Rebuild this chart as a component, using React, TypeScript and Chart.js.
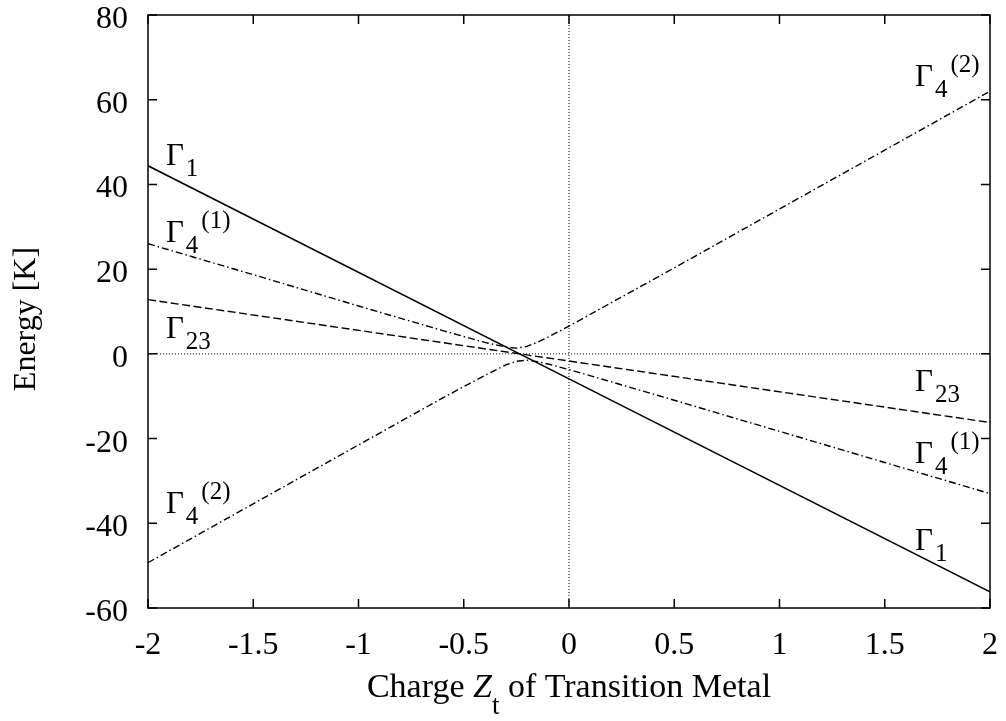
import React, { useEffect, useRef } from 'react';
import { Chart, registerables } from 'chart.js';
Chart.register(...registerables);

const X_TICKS = [-2, -1.5, -1, -0.5, 0, 0.5, 1, 1.5, 2];
const X_TICK_LABELS = ['-2', '-1.5', '-1', '-0.5', '0', '0.5', '1', '1.5', '2'];
const Y_TICKS = [-60, -40, -20, 0, 20, 40, 60, 80];
const Y_TICK_LABELS = ['-60', '-40', '-20', '0', '20', '40', '60', '80'];

const G1_X = [-2, 0, 2];
const G1_Y = [44.4, -5.9, -56.2];
const G23_X = [-2, 0, 2];
const G23_Y = [12.8, -1.7, -16.2];
const G4_X = [-2, -1.5, -1, -0.6, -0.4, -0.3, -0.25, -0.2, -0.15, -0.1, 0, 0.5, 1, 1.5, 2];
const G4_UPPER = [26.0, 18.7, 11.3, 5.5, 2.7, 1.6, 1.35, 1.75, 2.75, 3.95, 6.55, 20.3, 34.2, 48.1, 62.0];
const G4_LOWER = [-49.3, -35.4, -21.5, -10.4, -5.1, -2.6, -1.75, -1.5, -1.85, -2.4, -3.7, -10.95, -18.3, -25.65, -33.0];

// label anchors (data coords): [x, y, sub, sup]
const LABELS: [number, number, string, string][] = [
  [-1.915, 44.6, '1', ''],
  [-1.915, 26.5, '4', '(1)'],
  [-1.915, 3.8, '23', ''],
  [-1.915, -37.5, '4', '(2)'],
  [1.644, 63.3, '4', '(2)'],
  [1.644, -8.7, '23', ''],
  [1.644, -25.7, '4', '(1)'],
  [1.644, -46.3, '1', ''],
];

const FONT = "'Liberation Serif', 'DejaVu Serif', serif";

const pts = (xs: number[], ys: number[]) => xs.map((x, i) => ({ x, y: ys[i] }));

const overlay = {
  id: 'overlay',
  afterDraw(chart: any) {
    const ctx = chart.ctx as CanvasRenderingContext2D;
    const xs = chart.scales.x;
    const ys = chart.scales.y;
    const a = chart.chartArea;
    ctx.save();
    ctx.strokeStyle = '#000';
    ctx.fillStyle = '#000';
    ctx.lineWidth = 1.5;
    ctx.setLineDash([]);
    ctx.strokeRect(a.left, a.top, a.right - a.left, a.bottom - a.top);
    const TL = 9;
    ctx.beginPath();
    X_TICKS.forEach((v) => {
      const p = xs.getPixelForValue(v);
      ctx.moveTo(p, a.bottom);
      ctx.lineTo(p, a.bottom - TL);
      ctx.moveTo(p, a.top);
      ctx.lineTo(p, a.top + TL);
    });
    Y_TICKS.forEach((v) => {
      const p = ys.getPixelForValue(v);
      ctx.moveTo(a.left, p);
      ctx.lineTo(a.left + TL, p);
      ctx.moveTo(a.right, p);
      ctx.lineTo(a.right - TL, p);
    });
    ctx.stroke();

    ctx.font = `32px ${FONT}`;
    ctx.textBaseline = 'alphabetic';
    ctx.textAlign = 'center';
    X_TICKS.forEach((v, i) => {
      ctx.fillText(X_TICK_LABELS[i], xs.getPixelForValue(v), 654);
    });
    ctx.textAlign = 'right';
    Y_TICKS.forEach((v, i) => {
      ctx.fillText(Y_TICK_LABELS[i], 128, ys.getPixelForValue(v) + 13);
    });

    // y title
    ctx.save();
    ctx.translate(35, 319);
    ctx.rotate(-Math.PI / 2);
    ctx.textAlign = 'center';
    ctx.fillText('Energy [K]', 0, 0);
    ctx.restore();

    // x title
    const parts: [string, string, number][] = [
      ['Charge ', `34px ${FONT}`, 0],
      ['Z', `italic 34px ${FONT}`, 0],
      ['t', `27px ${FONT}`, 17],
      [' of Transition Metal', `34px ${FONT}`, 0],
    ];
    let total = 0;
    parts.forEach(([t, f]) => {
      ctx.font = f;
      total += ctx.measureText(t).width;
    });
    let cx = (a.left + a.right) / 2 - total / 2;
    ctx.textAlign = 'left';
    parts.forEach(([t, f, dy]) => {
      ctx.font = f;
      ctx.fillText(t, cx, 697 + dy);
      cx += ctx.measureText(t).width;
    });

    // Gamma labels
    LABELS.forEach(([lx, ly, sub, sup]) => {
      const px = xs.getPixelForValue(lx);
      const py = ys.getPixelForValue(ly);
      ctx.font = `31px ${FONT}`;
      ctx.fillText('\u0393', px, py);
      const w = ctx.measureText('\u0393').width;
      ctx.font = `25px ${FONT}`;
      const sx = px + w + 2;
      ctx.fillText(sub, sx, py + 11);
      if (sup) {
        const sw = ctx.measureText(sub).width;
        ctx.fillText(sup, sx + sw + 3, py - 13.5);
      }
    });
    ctx.restore();
  },
};

export default function App() {
  const ref = useRef<HTMLCanvasElement | null>(null);
  useEffect(() => {
    if (!ref.current) return;
    const common = { pointRadius: 0, borderColor: '#000', fill: false, tension: 0 };
    const chart = new Chart(ref.current, {
      type: 'line',
      data: {
        datasets: [
          { ...common, data: pts([-2, 2], [0, 0]), borderWidth: 1, borderDash: [1, 2] },
          { ...common, data: pts([0, 0], [-60, 80]), borderWidth: 1, borderDash: [1, 2] },
          { ...common, data: pts(G1_X, G1_Y), borderWidth: 1.6 },
          { ...common, data: pts(G23_X, G23_Y), borderWidth: 1.4, borderDash: [8, 3.5] },
          { ...common, data: pts(G4_X, G4_UPPER), borderWidth: 1.4, borderDash: [7, 3, 1.5, 3] },
          { ...common, data: pts(G4_X, G4_LOWER), borderWidth: 1.4, borderDash: [7, 3, 1.5, 3] },
        ] as any,
      },
      options: {
        animation: false,
        responsive: false,
        devicePixelRatio: 1,
        layout: { padding: { left: 148, right: 16, top: 15, bottom: 113 } },
        scales: {
          x: { type: 'linear', min: -2, max: 2, display: false },
          y: { type: 'linear', min: -60, max: 80, display: false },
        },
        plugins: { legend: { display: false }, tooltip: { enabled: false } },
      },
      plugins: [overlay],
    });
    return () => chart.destroy();
  }, []);
  return (
    <div style={{ position: 'absolute', left: 0, top: 0, width: 1006, height: 721, background: '#fff' }}>
      <canvas ref={ref} width={1006} height={721} style={{ display: 'block' }} />
    </div>
  );
}
